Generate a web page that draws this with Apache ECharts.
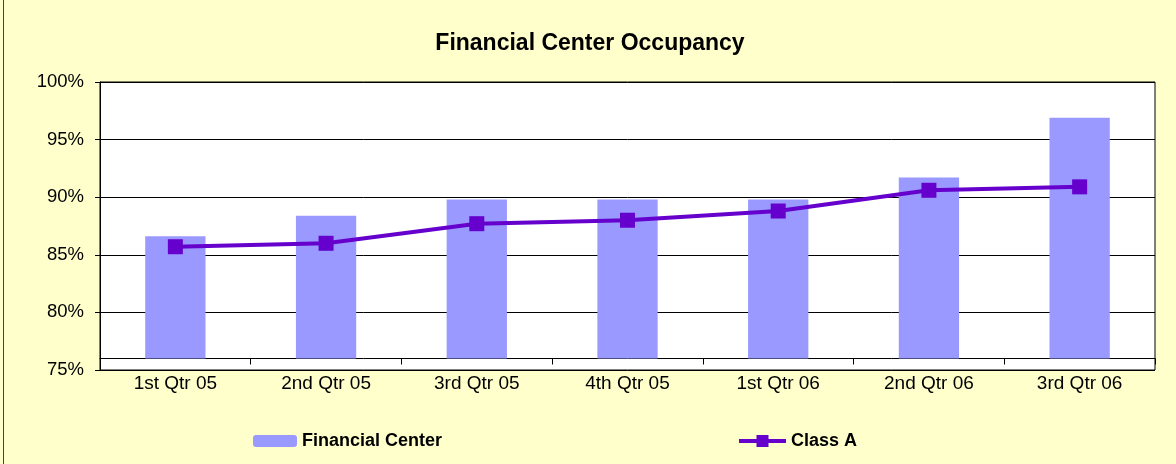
<!DOCTYPE html>
<html>
<head>
<meta charset="utf-8">
<script src="https://cdn.jsdelivr.net/npm/echarts@6/dist/echarts.min.js"></script>
<style>
  html, body { margin: 0; padding: 0; background: #FFFFCC; }
  #chart { height: 464px; box-sizing: border-box; border-left: 1px solid #444; margin-left: 3px; width: 1173px; }
</style>
</head>
<body>
<div id="chart"></div>
<script>
// data (percent)
const categories = ['1st Qtr 05', '2nd Qtr 05', '3rd Qtr 05', '4th Qtr 05', '1st Qtr 06', '2nd Qtr 06', '3rd Qtr 06'];
const financialCenter = [86.6, 88.4, 89.8, 89.8, 89.8, 91.7, 96.9];
const classA = [85.7, 86.0, 87.7, 88.0, 88.8, 90.6, 90.9];
const yMin = 75, yMax = 100, yStep = 5;
const crossAt = 76; // category axis crosses here

const font = "'Liberation Sans', Arial, sans-serif";
const chart = echarts.init(document.getElementById('chart'));

chart.setOption({
  backgroundColor: '#FFFFCC',
  animation: false,
  textStyle: { fontFamily: font },
  title: {
    text: 'Financial Center Occupancy',
    left: 'center',
    top: 32,
    padding: 0,
    textStyle: { fontSize: 23, fontWeight: 'bold', color: '#000', fontFamily: font }
  },
  legend: [
    {
      data: ['Financial Center'],
      left: 249, top: 432, padding: 0,
      itemWidth: 44, itemHeight: 12, itemGap: 5,
      textStyle: { fontSize: 18, fontWeight: 'bold', color: '#000', fontFamily: font }
    },
    {
      data: ['Class A'],
      left: 733, top: 432, padding: 0,
      itemWidth: 47, itemHeight: 15, itemGap: 5,
      lineStyle: { width: 4 },
      textStyle: { fontSize: 18, fontWeight: 'bold', color: '#000', fontFamily: font }
    }
  ],
  grid: {
    left: 96, right: 21, top: 82, bottom: 94,
    show: true, backgroundColor: '#fff', borderColor: '#000', borderWidth: 1
  },
  xAxis: {
    type: 'category',
    data: categories,
    offset: -11.5,
    axisLine: { lineStyle: { color: '#000', width: 1 } },
    axisTick: { show: true, length: 6, lineStyle: { color: '#000' } },
    axisLabel: { fontSize: 19, color: '#000', margin: 16, fontFamily: font }
  },
  yAxis: {
    type: 'value',
    min: yMin, max: yMax, interval: yStep,
    startValue: crossAt,
    axisLine: { show: true, lineStyle: { color: '#000' } },
    axisTick: { show: true, length: 5, lineStyle: { color: '#000' } },
    axisLabel: { fontSize: 18.5, color: '#000', margin: 16, formatter: v => v + '%', fontFamily: font },
    splitLine: { lineStyle: { color: '#000', width: 1 } }
  },
  series: [
    {
      name: 'Financial Center',
      type: 'bar',
      data: financialCenter,
      barWidth: '40%',
      itemStyle: { color: '#9999FF' }
    },
    {
      name: 'Class A',
      type: 'line',
      data: classA,
      symbol: 'rect',
      symbolSize: 15,
      lineStyle: { color: '#6600CC', width: 4 },
      itemStyle: { color: '#6600CC' }
    }
  ]
});
</script>
</body>
</html>
